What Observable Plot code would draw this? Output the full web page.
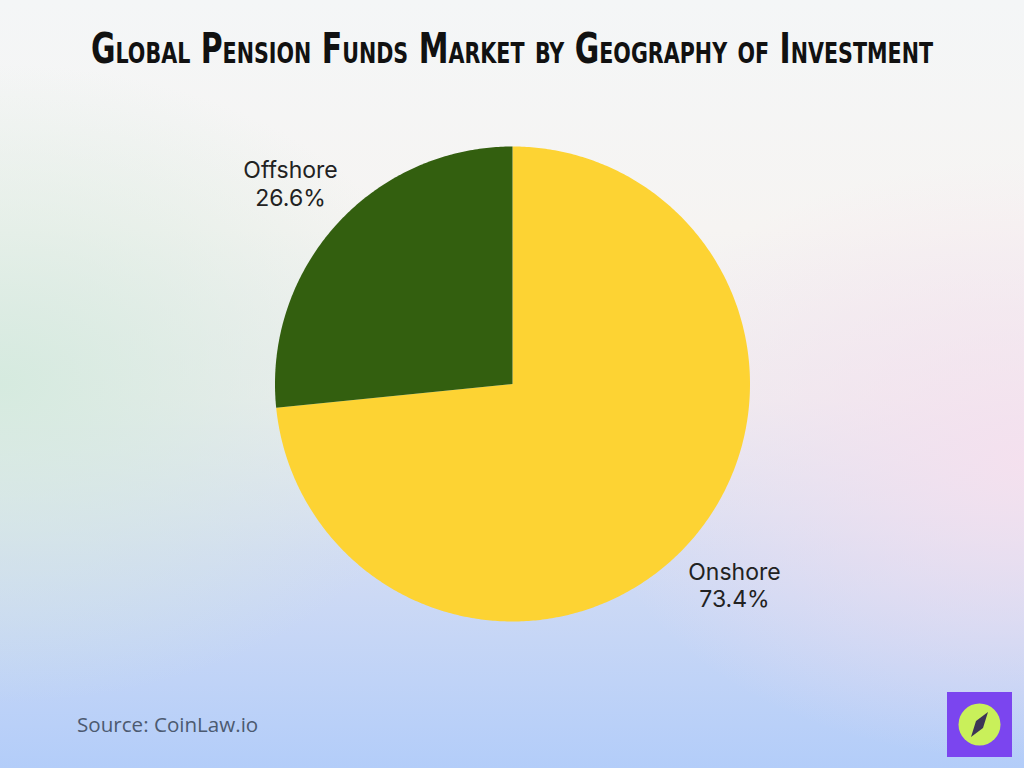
<!DOCTYPE html>
<html>
<head>
<meta charset="utf-8">
<script src="https://cdn.jsdelivr.net/npm/d3@7"></script>
<script src="https://cdn.jsdelivr.net/npm/@observablehq/plot@0.6"></script>
<style>
  html, body { margin: 0; padding: 0; }
  #page {
    position: relative; width: 1024px; height: 768px; overflow: hidden;
    background:
      radial-gradient(ellipse 460px 320px at 0% 50%, rgba(212,234,222,0.95), rgba(212,234,222,0)),
      radial-gradient(ellipse 440px 300px at 100% 60%, rgba(245,224,238,0.95), rgba(245,224,238,0)),
      linear-gradient(to bottom, #f4f6f7 0%, #f6f4f2 30%, #eeedf0 52%, #d2dcf4 72%, #b3cdf9 100%);
  }
  #title {
    position: absolute; top: 28px; left: 512px; width: 0; height: 42px;
    font-family: "Liberation Sans Narrow", "DejaVu Sans Condensed", sans-serif;
    font-weight: 700; font-variant: small-caps; font-size: 42px; line-height: 42px;
    color: #111; white-space: nowrap;
  }
  #title span { position: absolute; left: 0; top: 0; display: inline-block; transform-origin: 0 50%; }
  #chart { position: absolute; top: 100px; left: 0; }
  #source {
    position: absolute; left: 77px; top: 710px;
    font-family: "Open Sans", sans-serif; font-size: 20.6px; color: #4c5a70;
  }
  #logo { position: absolute; left: 947px; top: 692px; }
</style>
</head>
<body>
<div id="page">
  <div id="title"><span>Global Pension Funds Market by Geography of Investment</span></div>
  <div id="chart"></div>
  <div id="source">Source: CoinLaw.io</div>
  <div id="logo">
    <svg width="65" height="65" viewBox="0 0 65 65">
      <rect x="0" y="0" width="65" height="65" fill="#7b45ef"/>
      <circle cx="32.5" cy="32.5" r="21" fill="#c9f05a"/>
      <polygon points="41,20 36,36 24,45 29,29" fill="#3d3556"/>
    </svg>
  </div>
</div>
<script>
const categories = ["Onshore", "Offshore"];
const shares = [73.4, 26.6];
const sliceColors = ["#FDD333", "#335F0F"];
const labelTexts = ["Onshore\n73.4%", "Offshore\n26.6%"];

const data = categories.map((c, i) => ({name: c, value: shares[i], label: labelTexts[i]}));
const arcs = d3.pie().sort(null).value(d => d.value)(data);

// polygon outline of each slice (center + arc), in unit-circle coordinates
const outline = [];
for (const a of arcs) {
  outline.push({name: a.data.name, x: 0, y: 0});
  const steps = Math.max(2, Math.ceil((a.endAngle - a.startAngle) / 0.01));
  for (let k = 0; k <= steps; k++) {
    const t = a.startAngle + (a.endAngle - a.startAngle) * k / steps;
    outline.push({name: a.data.name, x: Math.sin(t), y: Math.cos(t)});
  }
  outline.push({name: a.data.name, x: 0, y: 0});
}
const labelR = 1.26;
const labels = arcs.map(a => {
  const m = (a.startAngle + a.endAngle) / 2;
  return {label: a.data.label, x: labelR * Math.sin(m), y: labelR * Math.cos(m)};
});

const chart = Plot.plot({
  width: 1024,
  height: 580,
  margin: 0,
  style: {background: "transparent", overflow: "visible"},
  x: {domain: [-1, 1], range: [274.5, 749.5], axis: null},
  y: {domain: [-1, 1], range: [521, 46], axis: null},
  color: {domain: categories, range: sliceColors},
  marks: [
    Plot.line(outline, {x: "x", y: "y", z: "name", fill: "name", stroke: "none", curve: "linear"}),
    Plot.text(labels, {x: "x", y: "y", text: "label", fontSize: 23, lineHeight: 1.2,
      fill: "#222", fontFamily: "Inter, 'Open Sans', sans-serif"})
  ]
});
document.getElementById("chart").appendChild(chart);

// fit title to reference width (842px), centred on x = 511
const span = document.querySelector("#title span");
const w = span.getBoundingClientRect().width;
span.style.transform = `translateX(-421px) scaleX(${842 / w})`;
</script>
</body>
</html>
